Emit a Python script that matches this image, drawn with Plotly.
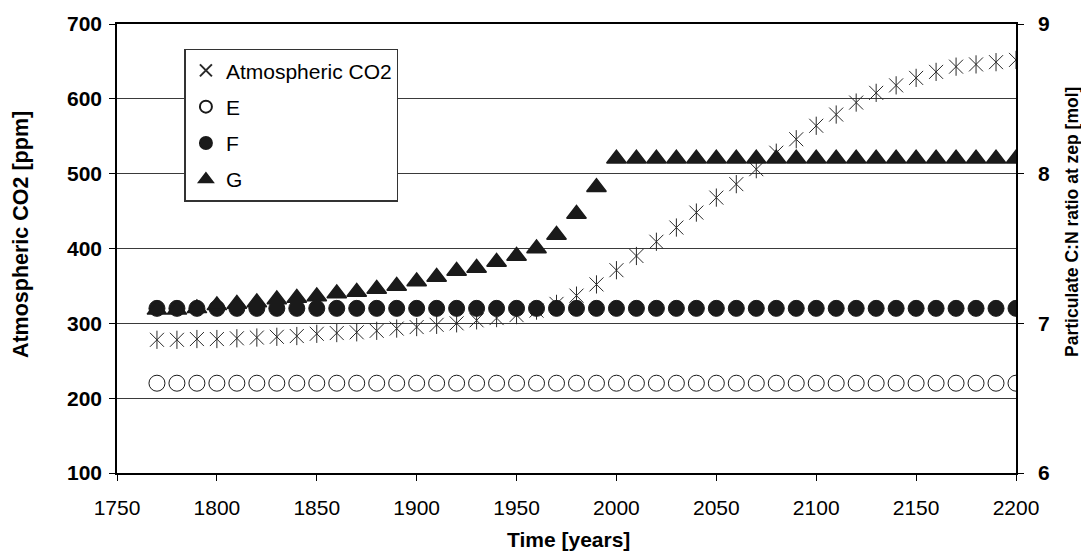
import plotly.graph_objects as go

# Model output sampled every decade
years = [1770, 1780, 1790, 1800, 1810, 1820, 1830, 1840, 1850, 1860, 1870,
         1880, 1890, 1900, 1910, 1920, 1930, 1940, 1950, 1960, 1970, 1980,
         1990, 2000, 2010, 2020, 2030, 2040, 2050, 2060, 2070, 2080, 2090,
         2100, 2110, 2120, 2130, 2140, 2150, 2160, 2170, 2180, 2190, 2200]

# Atmospheric CO2 [ppm] (left axis)
co2 = [278, 278, 279, 279, 280, 281, 282, 283, 286, 287, 288,
       290, 293, 295, 298, 300, 304, 307, 311, 317, 326, 337,
       352, 371, 390, 409, 428, 448, 468, 486, 506, 528, 546,
       564, 579, 595, 608, 618, 628, 636, 643, 646, 649, 652]

# Particulate C:N ratio at zep [mol] (right axis)
cn_e = [6.6, 6.6, 6.6, 6.6, 6.6, 6.6, 6.6, 6.6, 6.6, 6.6, 6.6,
        6.6, 6.6, 6.6, 6.6, 6.6, 6.6, 6.6, 6.6, 6.6, 6.6, 6.6,
        6.6, 6.6, 6.6, 6.6, 6.6, 6.6, 6.6, 6.6, 6.6, 6.6, 6.6,
        6.6, 6.6, 6.6, 6.6, 6.6, 6.6, 6.6, 6.6, 6.6, 6.6, 6.6]
cn_f = [7.1, 7.1, 7.1, 7.1, 7.1, 7.1, 7.1, 7.1, 7.1, 7.1, 7.1,
        7.1, 7.1, 7.1, 7.1, 7.1, 7.1, 7.1, 7.1, 7.1, 7.1, 7.1,
        7.1, 7.1, 7.1, 7.1, 7.1, 7.1, 7.1, 7.1, 7.1, 7.1, 7.1,
        7.1, 7.1, 7.1, 7.1, 7.1, 7.1, 7.1, 7.1, 7.1, 7.1, 7.1]
cn_g = [7.09, 7.09, 7.10, 7.12, 7.13, 7.14, 7.16, 7.17, 7.18, 7.20, 7.21,
        7.23, 7.25, 7.28, 7.31, 7.35, 7.37, 7.41, 7.45, 7.50, 7.59, 7.73,
        7.91, 8.10, 8.10, 8.10, 8.10, 8.10, 8.10, 8.10, 8.10, 8.10, 8.10,
        8.10, 8.10, 8.10, 8.10, 8.10, 8.10, 8.10, 8.10, 8.10, 8.10, 8.10]

x_ticks = [1750, 1800, 1850, 1900, 1950, 2000, 2050, 2100, 2150, 2200]
left_ticks = [100, 200, 300, 400, 500, 600, 700]
right_ticks = [6, 7, 8, 9]

FONT = "Liberation Sans, Arial, sans-serif"
INK = "#1a1a1a"
STAR = "#2a2a2a"

fig = go.Figure()

# Asterisk marker = thin X plus a vertical stroke
fig.add_trace(go.Scatter(
    x=years, y=co2, mode="markers", name="Atmospheric CO2",
    legendgroup="co2",
    marker=dict(symbol="x-thin-open", size=14, color=STAR,
                line=dict(color=STAR, width=1)),
    yaxis="y",
))
fig.add_trace(go.Scatter(
    x=years, y=co2, mode="markers", name="Atmospheric CO2",
    legendgroup="co2", showlegend=False,
    marker=dict(symbol="line-ns-open", size=13, color=STAR,
                line=dict(color=STAR, width=1)),
    yaxis="y",
))
fig.add_trace(go.Scatter(
    x=years, y=cn_e, mode="markers", name="E", legendgroup="e",
    marker=dict(symbol="circle", size=16, color="white",
                line=dict(color=INK, width=1)),
    yaxis="y2",
))
fig.add_trace(go.Scatter(
    x=years, y=cn_f, mode="markers", name="F", legendgroup="f",
    marker=dict(symbol="circle", size=16, color=INK,
                line=dict(color=INK, width=1)),
    yaxis="y2",
))
fig.add_trace(go.Scatter(
    x=years, y=cn_g, mode="markers", name="G", legendgroup="g",
    marker=dict(symbol="triangle-up", size=17, color=INK,
                line=dict(color=INK, width=1.5)),
    yaxis="y2",
))

fig.update_layout(
    width=1081, height=551,
    margin=dict(l=117, r=65, t=21, b=78),
    paper_bgcolor="white", plot_bgcolor="white",
    font=dict(family=FONT, color="black"),
    showlegend=True,
    legend=dict(
        x=0.075, y=0.945, xanchor="left", yanchor="top",
        bgcolor="white", bordercolor="#333", borderwidth=1.5,
        font=dict(family=FONT, size=21, color="black"),
        traceorder="grouped", tracegroupgap=6,
        itemsizing="constant",
    ),
    xaxis=dict(
        range=[1750, 2200], tickvals=x_ticks,
        ticks="outside", ticklen=6, tickwidth=1, tickcolor="black",
        ticklabelstandoff=9,
        showline=True, linecolor="black", linewidth=2, mirror=True,
        showgrid=False, zeroline=False,
        tickfont=dict(family=FONT, size=21, color="black"),
    ),
    yaxis=dict(
        range=[100, 700], tickvals=left_ticks,
        ticks="outside", ticklen=6, tickwidth=1, tickcolor="black",
        ticklabelstandoff=3,
        showline=True, linecolor="black", linewidth=1.5,
        showgrid=True, gridcolor="#3a3a3a", gridwidth=1, zeroline=False,
        tickfont=dict(family=FONT, size=21, color="black", weight="bold"),
    ),
    yaxis2=dict(
        range=[6, 9], tickvals=right_ticks, overlaying="y", side="right",
        ticks="outside", ticklen=6, tickwidth=1, tickcolor="black",
        ticklabelstandoff=10,
        showline=True, linecolor="black", linewidth=1.5,
        showgrid=False, zeroline=False,
        tickfont=dict(family=FONT, size=21, color="black", weight="bold"),
    ),
    annotations=[
        dict(text="Time [years]", xref="paper", yref="paper",
             x=0.5017, y=-0.148, xanchor="center", yanchor="middle",
             showarrow=False,
             font=dict(family=FONT, size=21, color="black", weight="bold")),
        dict(text="Atmospheric CO2 [ppm]", xref="paper", yref="paper",
             x=-0.1068, y=0.532, xanchor="center", yanchor="middle",
             textangle=-90, showarrow=False,
             font=dict(family=FONT, size=21.5, color="black", weight="bold")),
        dict(text="Particulate C:N ratio at zep [mol]", xref="paper",
             yref="paper", x=1.062, y=0.5586, xanchor="center",
             yanchor="middle", textangle=-90, showarrow=False,
             font=dict(family=FONT, size=17.5, color="black", weight="bold")),
    ],
)

fig.write_html("out.html")
